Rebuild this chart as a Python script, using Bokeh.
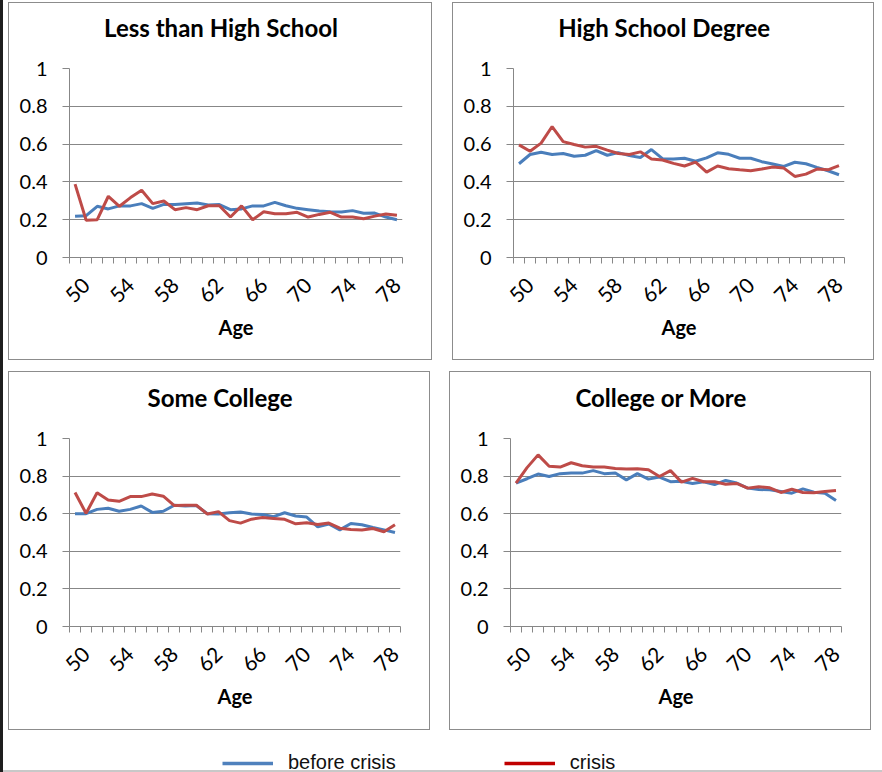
from bokeh.plotting import figure
from bokeh.models import (Range1d, FixedTicker, NumeralTickFormatter, Legend,
                          LegendItem, Spacer, Title)
from bokeh.layouts import row, column
from bokeh.embed import file_html
from bokeh.resources import INLINE

# ---------------- data ----------------
ages = [49, 50, 51, 52, 53, 54, 55, 56, 57, 58, 59, 60, 61, 62, 63,
        64, 65, 66, 67, 68, 69, 70, 71, 72, 73, 74, 75, 76, 77, 78]
x_tick_ages = [50, 54, 58, 62, 66, 70, 74, 78]
y_ticks = [0, 0.2, 0.4, 0.6, 0.8, 1]

panel_titles = ["Less than High School", "High School Degree",
                "Some College", "College or More"]
series_names = ["before crisis", "crisis"]
x_title = "Age"

lths_before = [0.218, 0.221, 0.271, 0.257, 0.273, 0.273, 0.285, 0.260, 0.281, 0.280,
               0.285, 0.288, 0.278, 0.280, 0.253, 0.257, 0.273, 0.273, 0.292, 0.274,
               0.260, 0.253, 0.246, 0.242, 0.241, 0.248, 0.234, 0.235, 0.214, 0.200]
lths_crisis = [0.388, 0.197, 0.200, 0.324, 0.271, 0.317, 0.356, 0.285, 0.299, 0.253,
               0.264, 0.253, 0.274, 0.274, 0.214, 0.273, 0.200, 0.242, 0.232, 0.232,
               0.239, 0.214, 0.228, 0.239, 0.214, 0.214, 0.205, 0.219, 0.230, 0.223]

hs_before = [0.496, 0.545, 0.557, 0.545, 0.550, 0.536, 0.541, 0.566, 0.541, 0.555,
             0.539, 0.529, 0.571, 0.523, 0.521, 0.525, 0.509, 0.527, 0.554, 0.546,
             0.525, 0.525, 0.507, 0.495, 0.482, 0.504, 0.496, 0.477, 0.459, 0.438]
hs_crisis = [0.596, 0.562, 0.605, 0.693, 0.613, 0.598, 0.584, 0.588, 0.568, 0.550,
             0.545, 0.559, 0.521, 0.516, 0.498, 0.484, 0.505, 0.452, 0.484, 0.470,
             0.464, 0.459, 0.468, 0.479, 0.473, 0.429, 0.441, 0.468, 0.464, 0.486]

sc_before = [0.600, 0.600, 0.623, 0.629, 0.613, 0.623, 0.641, 0.607, 0.613, 0.645,
             0.641, 0.643, 0.600, 0.598, 0.605, 0.609, 0.598, 0.596, 0.584, 0.605,
             0.588, 0.582, 0.530, 0.545, 0.514, 0.548, 0.541, 0.527, 0.514, 0.500]
sc_crisis = [0.713, 0.602, 0.711, 0.673, 0.666, 0.691, 0.691, 0.705, 0.693, 0.643,
             0.645, 0.645, 0.598, 0.611, 0.563, 0.550, 0.571, 0.580, 0.575, 0.570,
             0.546, 0.552, 0.543, 0.550, 0.523, 0.516, 0.513, 0.521, 0.504, 0.541]

col_before = [0.763, 0.786, 0.811, 0.798, 0.813, 0.816, 0.816, 0.829, 0.813, 0.816,
              0.780, 0.813, 0.784, 0.795, 0.770, 0.773, 0.761, 0.770, 0.755, 0.777,
              0.763, 0.736, 0.729, 0.727, 0.718, 0.709, 0.732, 0.714, 0.709, 0.670]
col_crisis = [0.763, 0.845, 0.913, 0.852, 0.848, 0.871, 0.855, 0.848, 0.848, 0.841,
              0.838, 0.839, 0.834, 0.798, 0.829, 0.768, 0.788, 0.770, 0.770, 0.757,
              0.761, 0.736, 0.743, 0.738, 0.713, 0.730, 0.713, 0.711, 0.718, 0.723]

# ---------------- style ----------------
BLUE = "#4A7EBB"
RED = "#BE4B48"
LEG_BLUE = "#4F81BD"
LEG_RED = "#C00000"
GRAY = "#878787"
FONT = "Lato"
LEFT, RIGHT = 61, 30
TITLE_PX = 24
TITLE_EM = [9.70, 8.78, 6.00, 7.09]   # measured title widths in em

edges = [a - 0.5 for a in ages] + [ages[-1] + 0.5]


def make_panel(idx, before, crisis, w, h, top, bottom):
    p = figure(width=w, height=h, title=None,
               x_range=Range1d(ages[0] - 0.5, ages[-1] + 0.5),
               y_range=Range1d(y_ticks[0], y_ticks[-1]),
               output_backend="svg", toolbar_location=None, tools="",
               min_border_left=LEFT, min_border_right=RIGHT,
               min_border_top=top, min_border_bottom=bottom)
    p.outline_line_color = None
    p.background_fill_color = "white"
    p.border_fill_alpha = 0
    p.styles = {"background-color": "white",
                "box-shadow": "inset 0 0 0 1px #8c8c8c"}

    p.line(ages, before, color=BLUE, line_width=3)
    p.line(ages, crisis, color=RED, line_width=3)

    # y axis
    p.yaxis.ticker = FixedTicker(ticks=y_ticks, minor_ticks=[])
    p.yaxis.formatter = NumeralTickFormatter(format="0.[0]")
    p.yaxis.axis_line_color = GRAY
    p.yaxis.major_tick_line_color = GRAY
    p.yaxis.major_tick_out = 7
    p.yaxis.major_tick_in = 0
    p.yaxis.minor_tick_line_color = None
    p.yaxis.major_label_standoff = 15
    p.yaxis.major_label_text_font = FONT
    p.yaxis.major_label_text_font_size = "20px"
    p.yaxis.major_label_text_color = "black"

    # x axis
    p.xaxis.ticker = FixedTicker(ticks=x_tick_ages, minor_ticks=edges)
    p.xaxis.axis_line_color = GRAY
    p.xaxis.major_tick_line_color = None
    p.xaxis.major_tick_out = 0
    p.xaxis.major_tick_in = 0
    p.xaxis.minor_tick_line_color = GRAY
    p.xaxis.minor_tick_out = 6
    p.xaxis.minor_tick_in = 0
    p.xaxis.major_label_orientation = 0.785398
    p.xaxis.major_label_standoff = 18
    p.xaxis.major_label_text_font = FONT
    p.xaxis.major_label_text_font_size = "21px"
    p.xaxis.major_label_text_color = "black"
    p.xaxis.axis_label = x_title
    p.xaxis.axis_label_text_font = FONT
    p.xaxis.axis_label_text_font_style = "bold"
    p.xaxis.axis_label_text_font_size = "20px"
    p.xaxis.axis_label_text_color = "black"
    p.xaxis.axis_label_standoff = 3

    # grid
    p.xgrid.visible = False
    p.ygrid.ticker = FixedTicker(ticks=y_ticks, minor_ticks=[])
    p.ygrid.grid_line_color = GRAY
    p.ygrid.grid_line_width = 1

    # gap between frame and title, then the title (centred over the box)
    p.add_layout(Title(text=" ", text_font_size="1px", standoff=24), "above")
    p.add_layout(Title(text=panel_titles[idx], align="left",
                       offset=(w / 2.0 - LEFT) - TITLE_EM[idx] * TITLE_PX / 2.0,
                       vertical_align="bottom", standoff=0,
                       text_font=FONT, text_font_style="bold",
                       text_font_size="%dpx" % TITLE_PX, text_color="black"),
                 "above")
    return p


p1 = make_panel(0, lths_before, lths_crisis, 424, 358, 66, 103)
p2 = make_panel(1, hs_before, hs_crisis, 422, 358, 66, 103)
p3 = make_panel(2, sc_before, sc_crisis, 422, 359, 67, 104)
p4 = make_panel(3, col_before, col_crisis, 422, 359, 67, 104)

# legend strip
leg = figure(width=882, height=42, x_range=Range1d(0, 1), y_range=Range1d(0, 1),
             output_backend="svg", toolbar_location=None, tools="",
             min_border=0)
leg.axis.visible = False
leg.grid.visible = False
leg.outline_line_color = None
leg.background_fill_alpha = 0
leg.border_fill_alpha = 0
nan = float("nan")
r_b = leg.line([nan], [nan], color=LEG_BLUE, line_width=3.5)
r_c = leg.line([nan], [nan], color=LEG_RED, line_width=3.5)
legend = Legend(items=[LegendItem(label=series_names[0], renderers=[r_b]),
                       LegendItem(label=series_names[1], renderers=[r_c])],
                orientation="horizontal", location=(222, -2),
                glyph_width=51, glyph_height=20, label_standoff=15, spacing=108,
                padding=0, margin=0, border_line_color=None,
                background_fill_alpha=0,
                label_text_font="Liberation Sans", label_text_font_size="20px",
                label_text_color="#111111")
leg.add_layout(legend)

layout = column(
    Spacer(width=882, height=2),
    row(Spacer(width=8, height=358), p1, Spacer(width=20, height=358), p2),
    Spacer(width=882, height=11),
    row(Spacer(width=8, height=359), p3, Spacer(width=19, height=359), p4),
    leg,
    styles={"box-shadow": "inset 3px 0 0 0 #1e1e1e, inset 0 -2px 0 0 #c8c8c8"},
)

open("out.html", "w").write(file_html(layout, INLINE))
